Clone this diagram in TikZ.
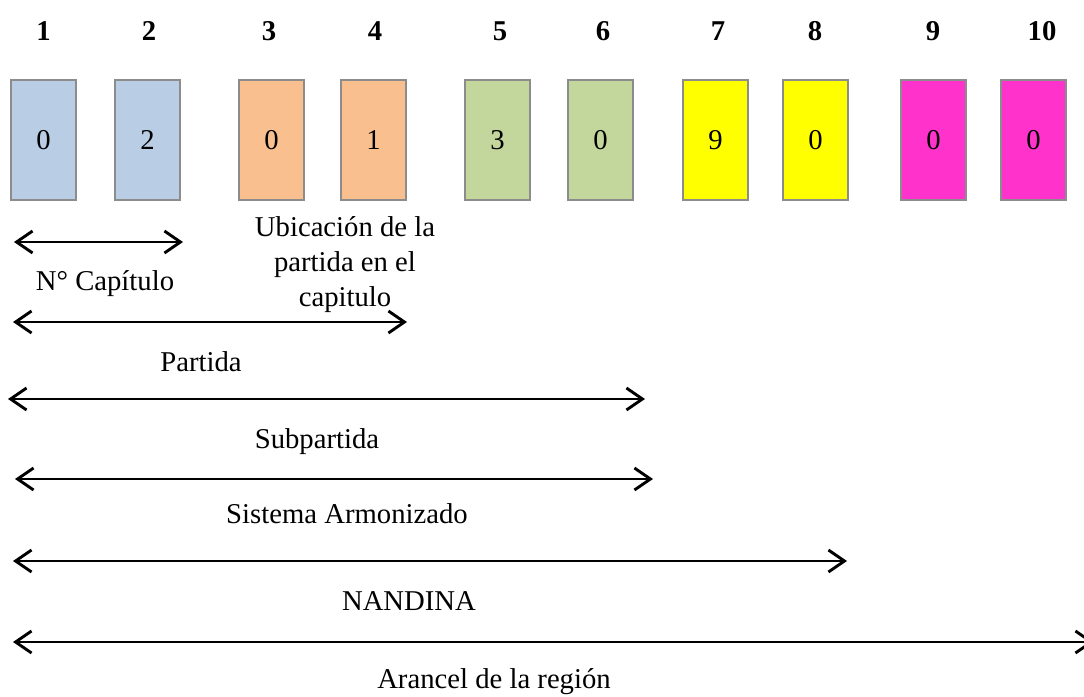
\documentclass[tikz,border=0pt]{standalone}
\usepackage{fontspec}
\setmainfont{Liberation Serif}
\usetikzlibrary{arrows.meta}
\definecolor{cblue}{HTML}{B9CDE5}
\definecolor{corange}{HTML}{F9BF8F}
\definecolor{cgreen}{HTML}{C3D69B}
\definecolor{cyellow}{HTML}{FFFF00}
\definecolor{cmagenta}{HTML}{FF33CC}
\definecolor{cborder}{HTML}{8C8C8C}
\begin{document}
\begin{tikzpicture}[x=1pt,y=-1pt,
  digitbox/.style={draw=cborder,line width=1.8pt,minimum width=65pt,minimum height=120pt,inner sep=0pt,font=\fontsize{28.7}{35}\selectfont},
  posnum/.style={anchor=base,inner sep=0pt,font=\fontsize{28.7}{35}\selectfont\bfseries},
  lbl/.style={anchor=base,inner sep=0pt,font=\fontsize{28.7}{35}\selectfont},
  span/.style={line width=2.9pt,{Straight Barb[length=16pt,width=22pt,line width=2.9pt]}-{Straight Barb[length=16pt,width=22pt,line width=2.9pt]}}]
\useasboundingbox (0,0) rectangle (1084,696);
\fill[white] (0,0) rectangle (1084,696);
% boxes
\node[digitbox,fill=cblue]    (b1)  at (43.5,140)  {0};
\node[digitbox,fill=cblue]    (b2)  at (147.5,140) {2};
\node[digitbox,fill=corange]  (b3)  at (271.5,140) {0};
\node[digitbox,fill=corange]  (b4)  at (373.5,140) {1};
\node[digitbox,fill=cgreen]   (b5)  at (497.5,140) {3};
\node[digitbox,fill=cgreen]   (b6)  at (600.5,140) {0};
\node[digitbox,fill=cyellow]  (b7)  at (715.5,140) {9};
\node[digitbox,fill=cyellow]  (b8)  at (815.5,140) {0};
\node[digitbox,fill=cmagenta] (b9)  at (933.5,140) {0};
\node[digitbox,fill=cmagenta] (b10) at (1033.5,140) {0};
% position numbers
\node[posnum] (n1)  at (43.5,40)  {1};
\node[posnum] (n2)  at (149,40)   {2};
\node[posnum] (n3)  at (269,40)   {3};
\node[posnum] (n4)  at (375,40)   {4};
\node[posnum] (n5)  at (500,40)   {5};
\node[posnum] (n6)  at (603,40)   {6};
\node[posnum] (n7)  at (718,40)   {7};
\node[posnum] (n8)  at (815,40)   {8};
\node[posnum] (n9)  at (933,40)   {9};
\node[posnum] (n10) at (1042,40)  {10};
% arrow ends
\coordinate (a1l) at (14,242);  \coordinate (a1r) at (183,242);
\coordinate (a2l) at (13,322);  \coordinate (a2r) at (407,322);
\coordinate (a3l) at (8,399);   \coordinate (a3r) at (645,399);
\coordinate (a4l) at (15,479);  \coordinate (a4r) at (653,479);
\coordinate (a5l) at (13,561);  \coordinate (a5r) at (847,561);
\coordinate (a6l) at (13,642);  \coordinate (a6r) at (1094,642);
\draw[span] (a1l) -- (a1r);
\draw[span] (a2l) -- (a2r);
\draw[span] (a3l) -- (a3r);
\draw[span] (a4l) -- (a4r);
\draw[span] (a5l) -- (a5r);
\draw[span] (a6l) -- (a6r);
% labels
\node[lbl] (ubic) at (345,236) {\begin{tabular}[t]{@{}c@{}}Ubicación de la\\partida en el\\capitulo\end{tabular}};
\node[lbl] (cap)  at (105,290) {N° Capítulo};
\node[lbl] (part) at (201,371) {Partida};
\node[lbl] (subp) at (317,448) {Subpartida};
\node[lbl] (sist) at (347,523) {Sistema Armonizado};
\node[lbl] (nand) at (409,610) {NANDINA};
\node[lbl] (aran) at (494,688) {Arancel de la región};
\end{tikzpicture}
\end{document}
